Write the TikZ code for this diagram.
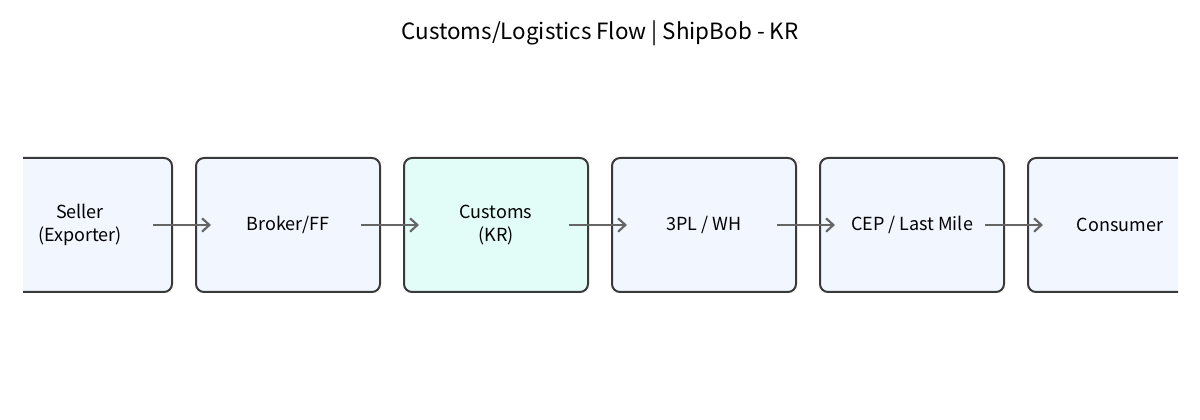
\documentclass[tikz,border=0pt]{standalone}
\usepackage{fontspec}
\setmainfont{Noto Sans CJK KR}
\usetikzlibrary{arrows.meta}
\usetikzlibrary{positioning}

\definecolor{boxfill}{HTML}{F2F6FF}
\definecolor{keyfill}{HTML}{E2FDF8}
\definecolor{boxline}{HTML}{3A3A3A}
\definecolor{flowline}{HTML}{666666}

\tikzset{
 stage/.style={draw=boxline, line width=1.5pt, rounded corners=6pt, fill=boxfill,
   minimum width=138pt, minimum height=100.5pt, align=center, inner sep=0,
   font=\fontsize{13.5}{17.5}\selectfont},
 flow/.style={flowline, line width=1.6pt, -{Straight Barb[length=5.5pt,width=10pt]}}
}

\begin{document}
\begin{tikzpicture} [x=.75pt, y=.75pt]
\useasboundingbox (0,0) rectangle (1200,420);
\node[font=\fontsize{16.8}{20}\selectfont] (title) at (600,387) {Customs/Logistics Flow | ShipBob - KR};
\begin{scope}
\clip (23,0) rectangle (1178,420);
\node[stage] (seller) at (80,195) {Seller\\(Exporter)};
\node[stage, right=16.5pt of seller] (broker) {Broker/FF};
\node[stage, fill=keyfill, right=16.5pt of broker] (customs) {Customs\\(KR)};
\node[stage, right=16.5pt of customs] (tpl) {3PL / WH};
\node[stage, right=16.5pt of tpl] (cep) {CEP / Last Mile};
\node[stage, right=16.5pt of cep] (consumer) {Consumer};
\end{scope}
\foreach \a/\b in {seller/broker, broker/customs, customs/tpl, tpl/cep, cep/consumer} {
 \draw[flow] ([xshift=-15pt]\a.east) -- ([xshift=12pt]\b.west);
}
\end{tikzpicture}
\end{document}
